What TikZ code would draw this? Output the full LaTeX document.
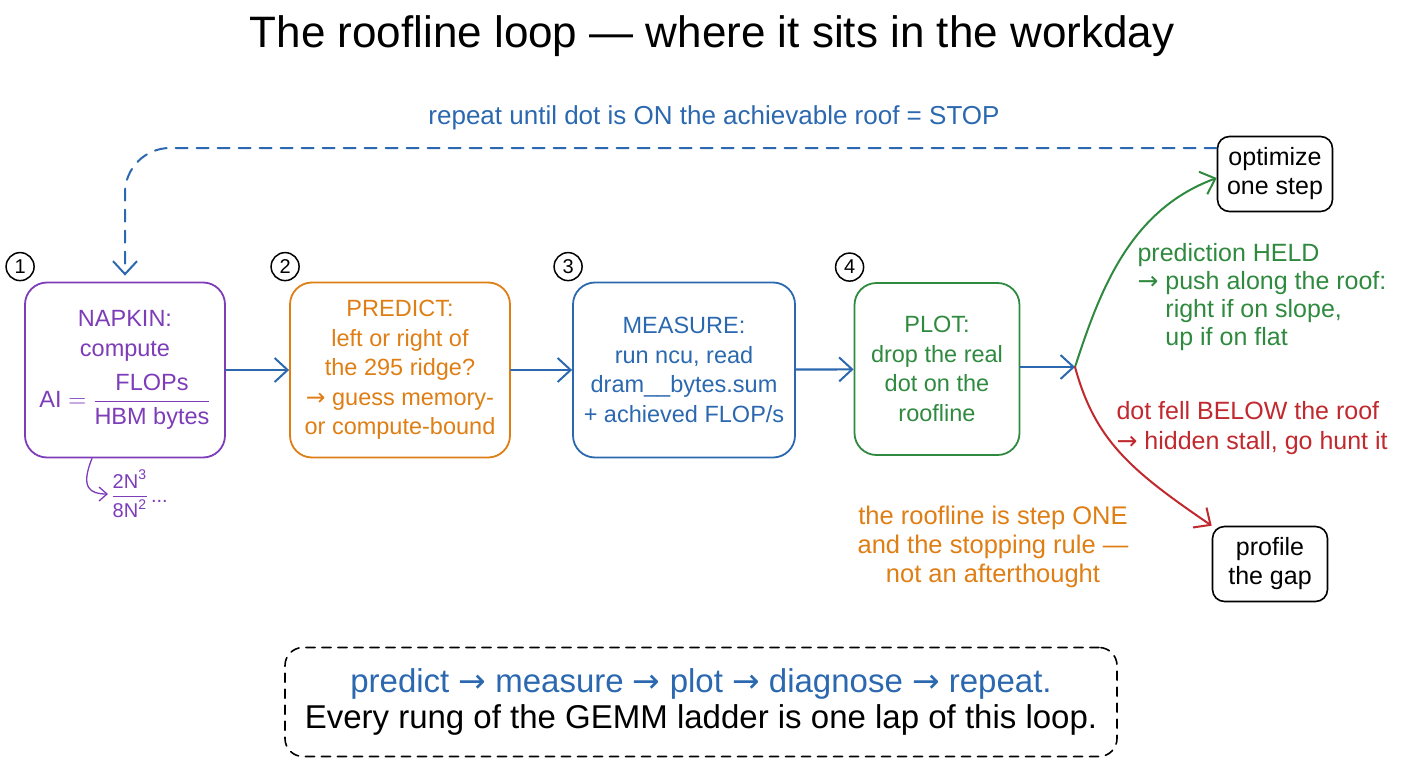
\documentclass[tikz,border=0pt]{standalone}
\usepackage{fontspec}
\usepackage{amsmath}
\setmainfont{Liberation Sans}
\newfontfamily\arrfont{DejaVu Sans}
\newcommand{\ra}{{\arrfont →}}
\usetikzlibrary{arrows.meta,positioning}
\definecolor{purp}{HTML}{7D3CB8}
\definecolor{orng}{HTML}{DE7E14}
\definecolor{blu}{HTML}{2B68AF}
\definecolor{grn}{HTML}{2F8A3F}
\definecolor{rd}{HTML}{C0292E}
\tikzset{
  stage/.style={draw, line width=1.8pt, rounded corners=22pt, minimum height=175pt, align=center, font=\fontsize{23.5}{29.5}\selectfont},
  num/.style={draw=black, circle, line width=1.5pt, inner sep=0pt, minimum size=28pt, font=\fontsize{20}{20}\selectfont},
  outcome/.style={draw, line width=1.6pt, rounded corners=12pt, align=center, minimum width=115pt, minimum height=75pt, font=\fontsize{25}{29}\selectfont},
  tip/.style={-{Straight Barb[length=13pt,width=24pt,line width=2pt]}},
  flow/.style={blu, line width=2.2pt, tip},
  note/.style={font=\fontsize{25}{29}\selectfont},
}
\begin{document}
\begin{tikzpicture}[x=1pt, y=-1pt, line cap=round, line join=round]
\useasboundingbox (0,0) rectangle (1408,768);
\node[font=\fontsize{44}{44}\selectfont] (title) at (712,36) {The roofline loop — where it sits in the workday};
% the four stages
\node[stage, purp, minimum width=200pt] (napkin) at (125,370) {NAPKIN:\\compute\\[12pt] $\text{AI} = \dfrac{\text{FLOPs}}{\text{HBM bytes}}$};
\node[stage, orng, minimum width=220pt] (predict) at (400,370) {PREDICT:\\left or right of\\the 295 ridge?\\\ra{} guess memory-\\or compute-bound};
\node[stage, blu, minimum width=222pt] (measure) at (684,370) {MEASURE:\\run ncu, read\\dram\_\_bytes.sum\\+ achieved FLOP/s};
\node[stage, grn, minimum width=165pt, minimum height=172pt] (plot) at (937,369) {PLOT:\\drop the real\\dot on the\\roofline};
\foreach \b/\k in {napkin/1,predict/2,measure/3,plot/4}
  \node[num] (n\k) at ([shift={(-4pt,15pt)}]\b.north west) {\k};
% outcomes
\node[outcome] (optimize) at (1275,174) {optimize\\one step};
\node[outcome] (profile) at (1270,564) {profile\\the gap};
\coordinate (fork) at (1075,367);
\draw[flow] (napkin) -- (predict);
\draw[flow] (predict) -- (measure);
\draw[flow] (measure) -- (plot);
\draw[flow] (plot.east |- fork) -- (fork);
\draw[grn, line width=2pt, tip] (fork) .. controls (1100,290) and (1130,210) .. ([yshift=-4pt]optimize.west);
\draw[rd, line width=2pt, tip] (fork) .. controls (1095,440) and (1130,470) .. (profile.north west);
% loop back
\draw[blu, line width=2pt, dash pattern=on 12pt off 9pt, rounded corners=45pt, tip] ([yshift=26pt]optimize.west) -| ([yshift=6pt]napkin.north);
\node[blu, font=\fontsize{26}{26}\selectfont] (stop) at (714,118) {repeat until dot is ON the achievable roof = STOP};
% side notes
\node[grn, note, font=\fontsize{25}{28}\selectfont, align=left, anchor=north west] (held) at (1134,240) {prediction HELD\\\ra{} push along the roof:\\\phantom{\ra{} }right if on slope,\\\phantom{\ra{} }up if on flat};
\node[rd, note, font=\fontsize{25}{30}\selectfont, align=left, anchor=north west] (fell) at (1113,398) {dot fell BELOW the roof\\\ra{} hidden stall, go hunt it};
\node[orng, note, font=\fontsize{25.5}{29}\selectfont, align=center] (rule) at (993,547) {the roofline is step ONE\\and the stopping rule —\\not an afterthought};
% napkin example
\node[purp, font=\fontsize{20}{20}\selectfont, anchor=west] (ratio) at (108,494) {$\dfrac{\text{2N}^{\text{3}}}{\text{8N}^{\text{2}}}$\,...};
\draw[purp, line width=1.3pt, -{Straight Barb[length=8pt,width=14pt]}] ([xshift=-33pt]napkin.south) .. controls (80,488) and (90,494) .. (ratio.west);
% summary
\node[draw, line width=1.6pt, dash pattern=on 9pt off 7pt, rounded corners=18pt, minimum width=832pt, minimum height=109pt, align=center, font=\fontsize{33}{36}\selectfont] (summary) at (701,702) {{\color{blu}predict \ra{} measure \ra{} plot \ra{} diagnose \ra{} repeat.}\\Every rung of the GEMM ladder is one lap of this loop.};
\end{tikzpicture}
\end{document}
